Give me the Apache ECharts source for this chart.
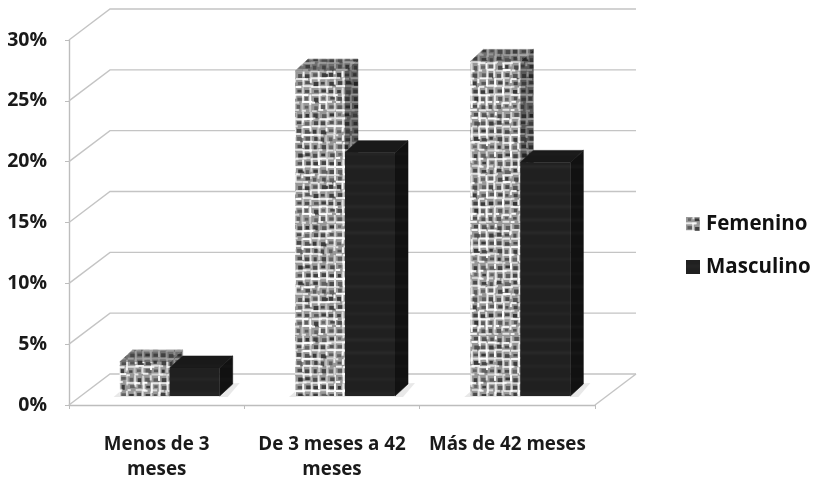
<!DOCTYPE html>
<html><head><meta charset="utf-8">
<style>html,body{margin:0;padding:0;background:#fff}#c{width:814px;height:477px;filter:blur(0.6px)}</style>
<script src="https://cdn.jsdelivr.net/npm/echarts@6/dist/echarts.min.js"></script>
</head><body><div id="c"></div>
<script>
var categories = ['Menos de 3\nmeses', 'De 3 meses a 42\nmeses', 'Más de 42 meses'];
var femenino = [2.8, 26.7, 27.5];
var masculino = [2.3, 20.0, 19.2];
var ticks = [0, 5, 10, 15, 20, 25, 30];

function hash(i, j) { var s = Math.sin(i * 12.9898 + j * 78.233) * 43758.5453; return s - Math.floor(s); }
function blurred(cv, r) {
  var w = cv.width, h = cv.height;
  var big = document.createElement('canvas'); big.width = w * 3; big.height = h * 3;
  var bg = big.getContext('2d');
  for (var a = 0; a < 3; a++) for (var b = 0; b < 3; b++) bg.drawImage(cv, a * w, b * h);
  var o = document.createElement('canvas'); o.width = w; o.height = h;
  var g = o.getContext('2d'); g.filter = 'blur(' + r + 'px)';
  g.drawImage(big, -w, -h);
  return o;
}
function weave(base, light, dark) {
  var S = 112, c = document.createElement('canvas'); c.width = c.height = S;
  var g = c.getContext('2d'); g.fillStyle = base; g.fillRect(0, 0, S, S);
  var cx = 8, cy = 8;
  for (var i = 0; i < S / cx; i++) for (var j = 0; j < S / cy; j++) {
    var x = i * cx + 1.6 * (hash(i, j + 11) - .5), y = j * cy + 1.6 * (hash(i + 4, j) - .5);
    g.fillStyle = dark; g.globalAlpha = .5 + .5 * hash(i, j);
    g.fillRect(x + 1.5, y + 1.5, 3 + 3 * hash(i + 2, j), 2.5 + 2.5 * hash(i, j + 2));
    g.fillStyle = light; g.globalAlpha = .55 + .45 * hash(j + 3, i + 7);
    g.fillRect(x - 1, y + 5.5, 3 + 9 * hash(i + 1, j), 2);
    g.globalAlpha = .4 + .6 * hash(j + 9, i + 2);
    g.fillRect(x + 6, y - 1, 2, 3 + 8 * hash(i, j + 5));
  }
  return blurred(c, 0.6);
}
function wood(base, line) {
  var W = 120, H = 120, c = document.createElement('canvas'); c.width = W; c.height = H;
  var g = c.getContext('2d'); g.fillStyle = base; g.fillRect(0, 0, W, H);
  g.strokeStyle = line;
  for (var j = 0; j < 9; j++) {
    var y = 6 + j * 13 + 5 * hash(j, 2);
    g.lineWidth = 1 + 1.5 * hash(j, 5);
    g.beginPath(); g.moveTo(0, y); g.lineTo(W, y); g.stroke();
  }
  return blurred(c, 1);
}
function pat(cv) { return { image: cv, repeat: 'repeat' }; }

var femFront = pat(weave('#989898', '#ffffff', '#333333'));
var femSide = pat(weave('#585858', '#979797', '#222222'));
var femTop = pat(weave('#707070', '#a8a8a8', '#333333'));
var masFront = pat(wood('#202020', '#2c2c2c'));
var masSide = pat(wood('#111111', '#1a1a1a'));
var masTop = pat(wood('#191919', '#202020'));

var WALL = [41, -31], FLOOR = [13, -9], DEPTH = [13, -12], BAR = 50;

function barRenderer(side, front, sideFill, top) {
  return function (params, api) {
    var base = api.coord([api.value(0), 0]);
    var head = api.coord([api.value(0), api.value(1)]);
    var x0 = base[0] + FLOOR[0] + (side < 0 ? -BAR : 0), x1 = x0 + BAR;
    var y0 = base[1] + FLOOR[1], y1 = head[1] + FLOOR[1];
    var dx = DEPTH[0], dy = DEPTH[1];
    return { type: 'group', children: [
      { type: 'polygon', shape: { points: [[x1, y0], [x1 + dx, y0 + dy], [x1 + dx, y1 + dy], [x1, y1]] }, style: { fill: sideFill, stroke: sideFill, lineWidth: .6 } },
      { type: 'polygon', shape: { points: [[x0, y1], [x0 + dx, y1 + dy], [x1 + dx, y1 + dy], [x1, y1]] }, style: { fill: top, stroke: top, lineWidth: .6 } },
      { type: 'rect', shape: { x: x0, y: y1, width: BAR, height: y0 - y1, r: 1 }, style: { fill: front } }
    ] };
  };
}
function wallRenderer(params, api) {
  var p = api.coord([0, api.value(1)]), r = params.coordSys;
  var a = [r.x, p[1]], b = [r.x + WALL[0], p[1] + WALL[1]], e = [r.x + r.width + WALL[0], p[1] + WALL[1]];
  var st = { stroke: '#c4c4c4', lineWidth: 1.4, fill: null };
  var kids = [{ type: 'polyline', shape: { points: [a, b, e] }, style: st }];
  if (api.value(1) === 0) kids.push({ type: 'line', shape: { x1: r.x + r.width, y1: p[1], x2: e[0], y2: e[1] }, style: st });
  return { type: 'group', children: kids };
}
function shadowRenderer(params, api) {
  var b = api.coord([api.value(0), 0]);
  var x0 = b[0] + FLOOR[0] - BAR - 6, x1 = b[0] + FLOOR[0] + BAR, y = b[1] + FLOOR[1];
  return { type: 'polygon', shape: { points: [[x0, y + 1], [x0 + 8, y - 6], [x1 + 20, y - 13], [x1 + 8, y + 1]] }, style: { fill: '#e8e8e8' } };
}

var chart = echarts.init(document.getElementById('c'), null, { renderer: 'canvas' });
chart.setOption({
  animation: false,
  backgroundColor: '#ffffff',
  grid: { left: 69, top: 40, width: 526, height: 365, containLabel: false, outerBoundsMode: 'none' },
  legend: {
    orient: 'vertical', left: 681, top: 205, itemWidth: 14, itemHeight: 14, itemGap: 15,
    data: [{ name: 'Femenino', icon: 'rect' }, { name: 'Masculino', icon: 'rect' }],
    selectedMode: false,
    textStyle: { fontFamily: 'Open Sans', fontWeight: 'bold', fontSize: 20.5, color: '#111', height: 28, lineHeight: 28, padding: [0, 0, 0, 1] }
  },
  xAxis: {
    type: 'category', data: categories,
    axisLine: { lineStyle: { color: '#bdbdbd', width: 1.4 } },
    axisTick: { show: true, length: 4, lineStyle: { color: '#bdbdbd' } },
    axisLabel: { fontFamily: 'Open Sans', fontWeight: 'bold', fontSize: 18.8, color: '#1a1a1a', margin: 27, lineHeight: 25, interval: 0 }
  },
  yAxis: {
    type: 'value', min: 0, max: 30, interval: 5,
    axisLine: { show: true, lineStyle: { color: '#bdbdbd', width: 1.4 } },
    axisTick: { show: true, length: 4, lineStyle: { color: '#bdbdbd' } },
    splitLine: { show: false },
    axisLabel: { formatter: '{value}%', fontFamily: 'Open Sans', fontWeight: 'bold', fontSize: 19.5, color: '#1a1a1a', margin: 22, padding: [9, 0, 0, 0] }
  },
  series: [
    { type: 'custom', name: 'wall', silent: true, z: 1, renderItem: wallRenderer, clip: false,
      data: ticks.map(function (t) { return [0, t]; }), encode: { x: 0, y: 1 } },
    { type: 'custom', name: 'floor', silent: true, z: 2, renderItem: shadowRenderer, clip: false,
      data: categories.map(function (c, i) { return [i, 0]; }), encode: { x: 0, y: 1 } },
    { type: 'custom', name: 'Femenino', z: 3, clip: false, itemStyle: { color: femFront },
      renderItem: barRenderer(-1, femFront, femSide, femTop),
      data: femenino.map(function (v, i) { return [i, v]; }), encode: { x: 0, y: 1 } },
    { type: 'custom', name: 'Masculino', z: 4, clip: false, itemStyle: { color: masFront },
      renderItem: barRenderer(1, masFront, masSide, masTop),
      data: masculino.map(function (v, i) { return [i, v]; }), encode: { x: 0, y: 1 } }
  ]
});
</script></body></html>
